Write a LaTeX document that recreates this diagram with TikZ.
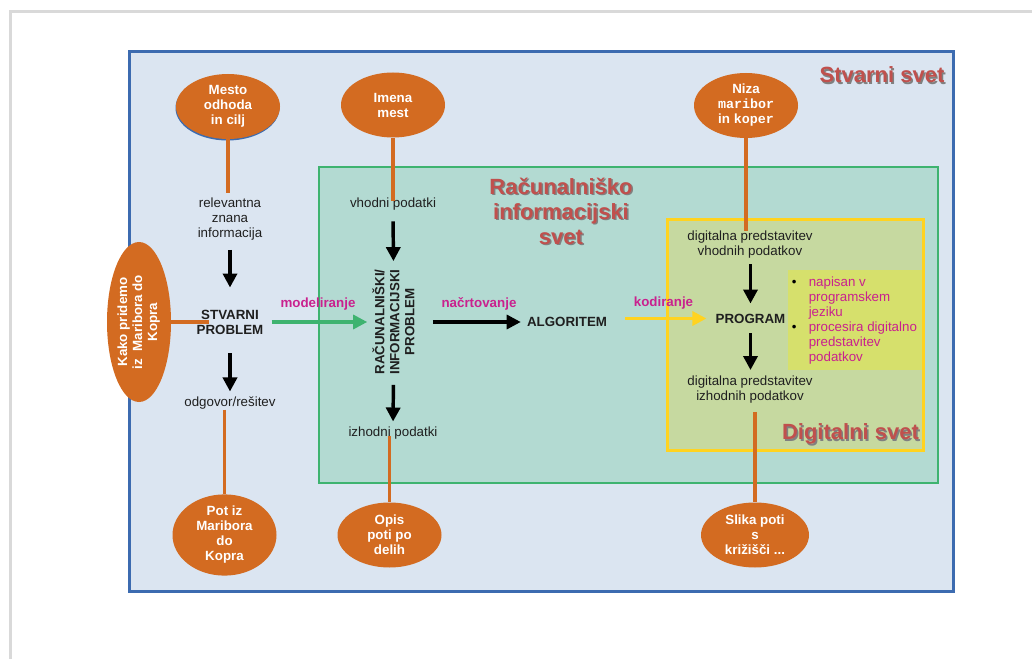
\documentclass[tikz,border=0pt]{standalone}
\usepackage{fontspec}
\setmainfont{Liberation Sans}
\newfontfamily\monob{Liberation Mono}
\usetikzlibrary{shapes.geometric,arrows.meta}

\definecolor{framegray}{HTML}{D9D9D9}
\definecolor{realfill}{HTML}{DBE5F1}
\definecolor{realline}{HTML}{3C6BB0}
\definecolor{infofill}{HTML}{B3DAD2}
\definecolor{infoline}{HTML}{3EB370}
\definecolor{digifill}{HTML}{C6D9A0}
\definecolor{digiline}{HTML}{FFD320}
\definecolor{notefill}{HTML}{D6E06C}
\definecolor{bubblec}{HTML}{D36B21}
\definecolor{actc}{HTML}{C9218E}
\definecolor{titlec}{HTML}{C0504D}

\tikzset{
  txt/.style={inner sep=0pt, align=center, text=black!88,
    font=\fontsize{10}{11.25}\selectfont},
  boldtxt/.style={txt, font=\fontsize{10}{11.25}\selectfont\bfseries},
  bubble/.style={ellipse, fill=bubblec, inner sep=0pt, align=center,
    text=white, minimum width=78pt, minimum height=48.75pt,
    font=\fontsize{10}{11.25}\selectfont\bfseries},
  link/.style={draw=bubblec, line width=2.5pt},
  flow/.style={line width=2.6pt, -{Triangle[width=10.5pt,length=10.5pt]}},
  actlabel/.style={inner sep=0pt, text=actc,
    font=\fontsize{10}{11.25}\selectfont\bfseries},
  worldtitle/.style={inner sep=0pt, align=center, text=titlec,
    font=\fontsize{16.5}{18.75}\selectfont\bfseries},
  worldshadow/.style={worldtitle, text=black!50},
}

\begin{document}
\begin{tikzpicture}[x=0.75pt, y=-0.75pt]
\useasboundingbox (0,0) rectangle (1032,659);

% page frame
\draw[framegray, line width=2pt] (10.5,659) -- (10.5,11.5) -- (1032,11.5);

% the three worlds
\draw[realline, fill=realfill, line width=2.25pt] (129,52) rectangle (953,591);
\draw[infoline, fill=infofill, line width=2pt] (319,167) rectangle (938,483);
\draw[digiline, fill=digifill, line width=2.25pt] (667,220) rectangle (923,450);
\node[fill=notefill, minimum width=100.5pt, minimum height=75pt, inner sep=0pt]
  (notebox) at (855,320) {};

% world titles
\node[worldshadow] (realtitleS) at (883.5,76.5) {Stvarni svet};
\node[worldtitle]  (realtitle)  at (882,75) {Stvarni svet};
\node[worldshadow] (infotitleS) at (562.5,212.5) {Računalniško\\informacijski\\svet};
\node[worldtitle]  (infotitle)  at (561,211) {Računalniško\\informacijski\\svet};
\node[worldshadow] (digititleS) at (852,435.5) {Digitalni svet};
\node[worldtitle]  (digititle)  at (850.5,434) {Digitalni svet};

% example bubbles
\node[bubble, fill=realline] (mestoedge) at (227.5,108) {};
\node[bubble] (mesto) at (228,106.5) {Mesto\\odhoda\\in cilj};
\node[bubble] (imena) at (393,105) {Imena\\mest};
\node[bubble] (niza) at (746,105.5) {Niza\\{\monob\bfseries maribor}\\in {\monob\bfseries koper}};
\node[bubble, minimum width=48pt, minimum height=120pt] (kako) at (139,322)
  {\rotatebox{90}{\begin{tabular}{@{}c@{}}Kako pridemo\\iz\ \ Maribora do\\Kopra\end{tabular}}};
\node[bubble] (pot) at (224.5,535) {Pot iz\\Maribora\\do\\Kopra};
\node[bubble] (opis) at (389.5,535) {Opis\\poti po\\delih};
\node[bubble, minimum width=81pt] (slika) at (755,535) {Slika poti\\s\\križišči ...};

% real world column
\node[txt] (relev) at (230,219.5) {relevantna\\znana\\informacija};
\node[boldtxt] (stvarni) at (230,322) {STVARNI\\PROBLEM};
\node[txt] (odgovor) at (230,403) {odgovor/rešitev};

% information world column
\node[txt] (vhodni) at (393,204) {vhodni podatki};
\node[boldtxt, rotate=90] (racun) at (393.5,322) {RAČUNALNIŠKI/\\INFORMACIJSKI\\PROBLEM};
\node[txt] (izhodni) at (393,433) {izhodni podatki};
\node[boldtxt] (algo) at (567,322) {ALGORITEM};

% digital world column
\node[txt] (vin) at (750,244.5) {digitalna predstavitev\\vhodnih podatkov};
\node[boldtxt] (program) at (750.5,318.5) {PROGRAM};
\node[txt] (vout) at (750,390) {digitalna predstavitev\\izhodnih podatkov};
\node[inner sep=0pt, anchor=west, align=left, font=\fontsize{10}{11.25}\selectfont]
  (notes) at (791.5,321.5)
  {\begin{tabular}{@{}l@{}l@{}}
   \makebox[12.75pt][l]{\textbullet} & \textcolor{actc}{napisan v}\\
   & \textcolor{actc}{programskem}\\
   & \textcolor{actc}{jeziku}\\
   \makebox[12.75pt][l]{\textbullet} & \textcolor{actc}{procesira digitalno}\\
   & \textcolor{actc}{predstavitev}\\
   & \textcolor{actc}{podatkov}
   \end{tabular}};

% activity labels
\node[actlabel] (lmodel) at (318,304) {modeliranje};
\node[actlabel] (lplan)  at (479,304) {načrtovanje};
\node[actlabel] (lcode)  at (663.5,303) {kodiranje};

% bubble links
\draw[link, shorten >=3.75pt] (mesto.south) -- (mesto.south |- relev.north);
\draw[link, shorten >=-2.25pt] (imena.south) -- (vhodni.north);
\draw[link] (niza.south) -- (niza.south |- vin.north);
\draw[link, shorten >=-9.75pt] (kako.east) -- (stvarni.west);
\draw[link] (odgovor.south -| pot.north) -- (pot.north);
\draw[link, shorten <=-2.25pt] (izhodni.south -| opis.north) -- (opis.north);
\draw[link, shorten <=6pt] (vout.south -| slika.north) -- (slika.north);

% process arrows
\draw[flow, shorten <=6.75pt, shorten >=16.5pt] (relev.south) -- (stvarni.north);
\draw[flow, shorten <=14.25pt, shorten >=3.75pt] (stvarni.south) -- (odgovor.north);
\draw[flow, shorten <=8.25pt, shorten >=6pt] (vhodni.south) -- (racun.east);
\draw[flow, shorten <=7.5pt, shorten >=3.75pt] (racun.west) -- (izhodni.north);
\draw[flow, infoline, line width=2.4pt, shorten <=6pt, shorten >=3.75pt]
  (stvarni.east) -- (racun.north);
\draw[flow, line width=2.4pt, shorten <=13.5pt, shorten >=4.5pt]
  (racun.south) -- (algo.west);
\draw[flow, digiline, line width=2.4pt, shorten <=13.5pt, shorten >=6.75pt]
  (algo.east |- program.west) -- (program.west);
\draw[flow, shorten <=4.5pt, shorten >=7.5pt] (vin.south -| program.north) -- (program.north);
\draw[flow, shorten <=7.5pt, shorten >=4.5pt] (program.south) -- (program.south |- vout.north);
\end{tikzpicture}
\end{document}
